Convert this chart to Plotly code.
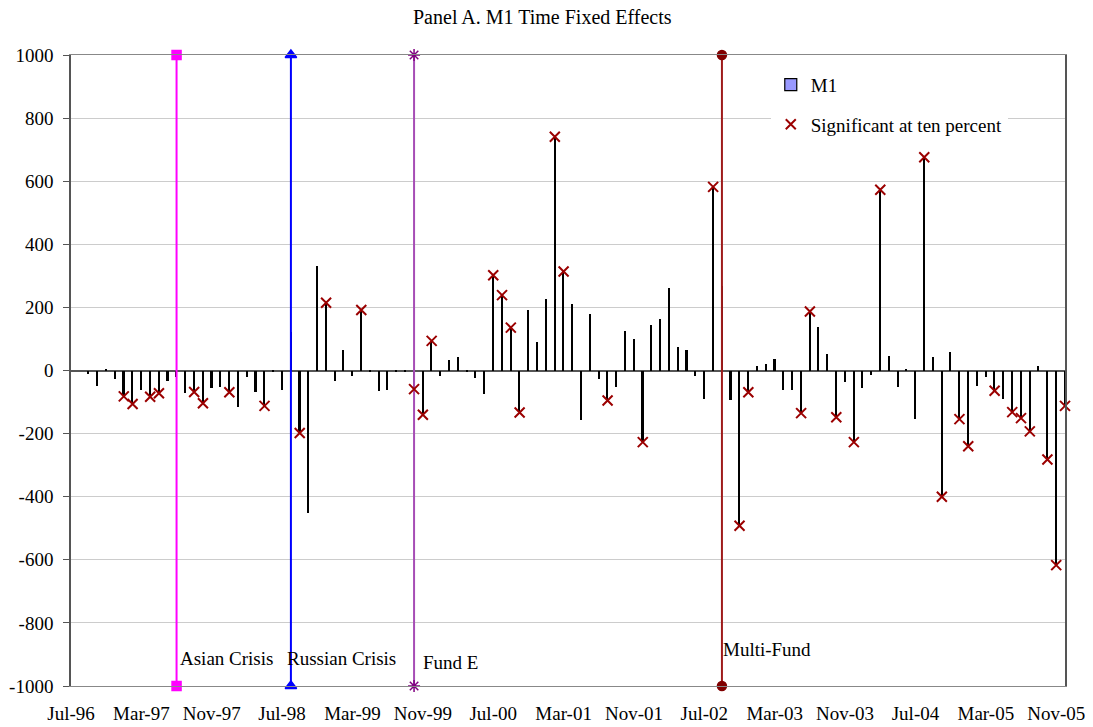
import plotly.graph_objects as go
import pandas as pd

# ---------------- data ----------------
months = list(pd.date_range("1996-07-01", "2005-12-01", freq="MS").strftime("%b-%y"))

m1 = [0, 0, -12, -48, 2, -27, -82, -106, -61, -83,
      -72, -32, -20, -72, -68, -104, -57, -52, -69, -116,
      -20, -69, -112, -5, -63, 123, -198, -451, 331, 215,
      -34, 65, -19, 192, -3, -66, -63, -3, -3, -59,
      -140, 94, -19, 33, 42, -2, -25, -75, 302, 239,
      136, -133, 192, 91, 226, 741, 314, 211, -158, 178,
      -27, -95, -51, 124, 101, -227, 144, 162, 262, 75,
      65, -16, -91, 582, 269, -95, -492, -69, 15, 20,
      38, -63, -61, -135, 187, 137, 53, -148, -37, -227,
      -57, -14, 573, 46, -52, 5, -153, 676, 44, -400,
      58, -154, -240, -49, -20, -64, -90, -132, -151, -193,
      13, -282, -617, -112]

significant = [0, 0, 0, 0, 0, 0, 1, 1, 0, 1,
               1, 0, 0, 0, 1, 1, 0, 0, 1, 0,
               0, 0, 1, 0, 0, 0, 1, 0, 0, 1,
               0, 0, 0, 1, 0, 0, 0, 0, 0, 1,
               1, 1, 0, 0, 0, 0, 0, 0, 1, 1,
               1, 1, 0, 0, 0, 1, 1, 0, 0, 0,
               0, 1, 0, 0, 0, 1, 0, 0, 0, 0,
               0, 0, 0, 1, 0, 0, 1, 1, 0, 0,
               0, 0, 0, 1, 1, 0, 0, 1, 0, 1,
               0, 0, 1, 0, 0, 0, 0, 1, 0, 1,
               0, 1, 1, 0, 0, 1, 0, 1, 1, 1,
               0, 1, 1, 1]

tick_labels = ["Jul-96", "Mar-97", "Nov-97", "Jul-98", "Mar-99", "Nov-99", "Jul-00",
               "Mar-01", "Nov-01", "Jul-02", "Mar-03", "Nov-03", "Jul-04", "Mar-05", "Nov-05"]

y_tick_values = [-1000, -800, -600, -400, -200, 0, 200, 400, 600, 800, 1000]
y_tick_labels = ["-1000", "-800", "-600", "-400", "-200", "0", "200", "400", "600", "800", "1000"]

event_names = ["Asian Crisis", "Russian Crisis", "Fund E", "Multi-Fund"]
event_months = ["Jul-97", "Aug-98", "Oct-99", "Sep-02"]
event_span = [-1000, 1000]

chart_title = "Panel A. M1 Time Fixed Effects"

# ---------------- styles ----------------
FONT = "Liberation Serif"
W, H = 1085, 719   # page body has an 8px margin; keep the figure inside the window
event_styles = [
    dict(line="#ff00ff", marker="#ff00ff", symbol="square", size=9, xshift=1, y=-914),
    dict(line="#0000ff", marker="#0000ff", symbol="triangle-up", size=10, xshift=-6, y=-914),
    dict(line="#a64db5", marker="#800080", symbol="asterisk-open", size=10, xshift=7, y=-924),
    dict(line="#9e1b1b", marker="#800000", symbol="circle", size=9, xshift=-1, y=-885),
]

fig = go.Figure()

# event lines (under bars)
for name, mon, st in zip(event_names, event_months, event_styles):
    fig.add_trace(go.Scatter(
        x=[mon, mon], y=event_span, mode="lines+markers",
        line=dict(color=st["line"], width=2),
        marker=dict(symbol=st["symbol"], size=st["size"], color=st["marker"],
                    line=dict(color=st["marker"], width=1.5)),
        cliponaxis=False, showlegend=False, hoverinfo="skip"))

# M1 stems
fig.add_trace(go.Bar(
    x=months, y=m1, width=0.18, marker=dict(color="black", line=dict(width=0)),
    showlegend=False, name="M1"))

# legend-only entry for M1
fig.add_trace(go.Scatter(
    x=[None], y=[None], mode="markers", name="M1", legendgroup="a",
    marker=dict(symbol="square", size=12, color="#9999ff", line=dict(color="black", width=1.2))))

# significant markers
sig_x = [m for m, s in zip(months, significant) if s]
sig_y = [v for v, s in zip(m1, significant) if s]
fig.add_trace(go.Scatter(
    x=sig_x, y=sig_y, mode="markers", name="Significant at ten percent", legendgroup="b",
    marker=dict(symbol="x-thin", size=10, color="#9b0000", line=dict(color="#9b0000", width=2)),
    cliponaxis=False))

for name, mon, st in zip(event_names, event_months, event_styles):
    fig.add_annotation(x=mon, y=st["y"], text=name, showarrow=False, xanchor="left",
                       yanchor="middle", xshift=st["xshift"],
                       font=dict(family=FONT, size=19, color="black"))

# title as a paper-anchored annotation
fig.add_annotation(x=(534 - 63) / (W - 63 - 28), y=1 + (47 - 9) / (H - 47 - 41),
                   xref="paper", yref="paper", text=chart_title, showarrow=False,
                   xanchor="center", yanchor="middle",
                   font=dict(family=FONT, size=20, color="black"))

fig.update_layout(
    width=W, height=H,
    margin=dict(l=63, r=28, t=47, b=41, autoexpand=False),
    paper_bgcolor="white", plot_bgcolor="white",
    font=dict(family=FONT, size=19, color="black"),
    bargap=0,
    legend=dict(x=0.704, y=0.983, xanchor="left", yanchor="top",
                bgcolor="white", borderwidth=0, tracegroupgap=12,
                font=dict(family=FONT, size=19, color="black")),
    xaxis=dict(type="category", categoryorder="array", categoryarray=months,
               range=[0, len(months) - 1], showgrid=False, zeroline=False,
               tickmode="array", tickvals=tick_labels, ticktext=tick_labels,
               ticks="", ticklabelstandoff=10, automargin=False,
               showline=True, linecolor="#888888", linewidth=1, mirror=True,
               tickfont=dict(family=FONT, size=19)),
    yaxis=dict(range=[-1000, 1000], tickmode="array", tickvals=y_tick_values,
               ticktext=y_tick_labels, showgrid=True,
               gridcolor="#cccccc", gridwidth=1, automargin=False,
               zeroline=True, zerolinecolor="#555555", zerolinewidth=1.5,
               showline=True, linecolor="#555555", linewidth=1.5, mirror=True,
               ticks="outside", ticklen=6, tickcolor="#555555",
               ticklabelstandoff=6,
               tickfont=dict(family=FONT, size=19)),
)

fig.write_html("out.html")
